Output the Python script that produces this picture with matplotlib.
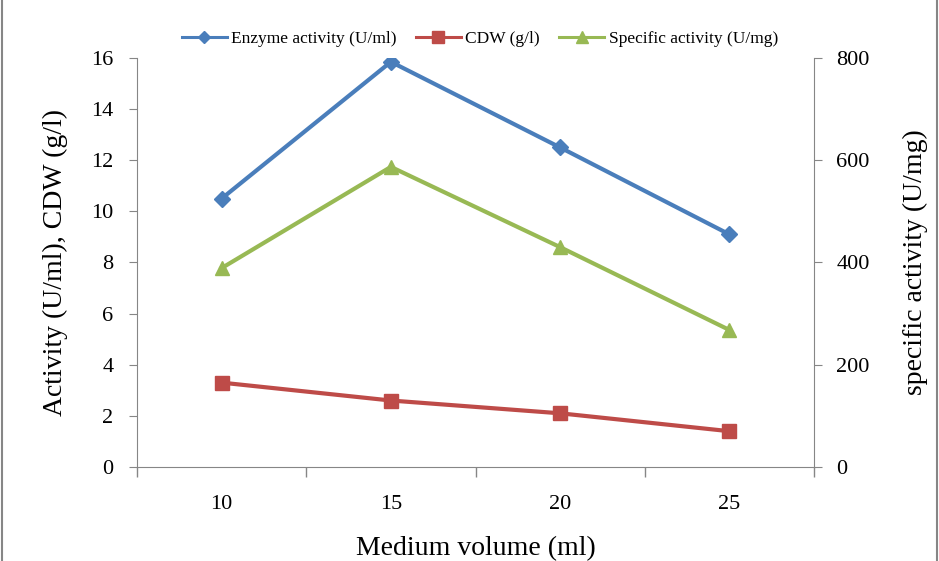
import matplotlib.pyplot as plt
from matplotlib.patches import Rectangle
from matplotlib.lines import Line2D

plt.rcParams['font.family'] = ['Liberation Serif', 'DejaVu Serif']

# data
volumes = ['10', '15', '20', '25']
enzyme_activity = [10.5, 15.85, 12.5, 9.1]      # U/ml
cdw = [3.3, 2.6, 2.1, 1.4]                       # g/l
specific_activity = [389, 587, 430, 268]         # U/mg (right axis)

blue = '#4A7EBB'
red = '#BE4B48'
green = '#98B954'
axis_grey = '#868686'

fig = plt.figure(figsize=(9.39, 5.61), dpi=100)
ax = fig.add_axes([0.1459, 0.1676, 0.721, 0.729])
ax2 = ax.twinx()

x = list(range(1, len(volumes) + 1))

ax.plot(x, enzyme_activity, color=blue, lw=3, marker='D', ms=8.5,
        label='Enzyme activity (U/ml)', zorder=3)
ax.plot(x, cdw, color=red, lw=3, marker='s', ms=10.5,
        label='CDW (g/l)', zorder=3)
ax2.plot(x, specific_activity, color=green, lw=3, marker='^', ms=10.5,
         label='Specific activity (U/mg)', zorder=3)

ax.set_xlim(0.5, 4.5)
ax.set_ylim(0, 16)
ax2.set_ylim(0, 800)
ax.set_yticks(range(0, 17, 2))
ax2.set_yticks(range(0, 801, 200))

# category axis: ticks between categories, labels centred on categories
ax.set_xticks([0.5, 1.5, 2.5, 3.5, 4.5])
ax.set_xticklabels([])
ax.set_xticks(x, minor=True)
ax.set_xticklabels(volumes, minor=True)
ax.tick_params(axis='x', which='minor', length=0, pad=20, labelsize=16)
ax.tick_params(axis='x', which='major', direction='out', length=7,
               color=axis_grey, width=1)

ax.tick_params(axis='y', direction='out', length=6, color=axis_grey,
               labelsize=16, pad=11)
ax2.tick_params(axis='y', direction='out', length=6, color=axis_grey,
                labelsize=16, pad=10)

for a in (ax, ax2):
    a.spines['top'].set_visible(False)
    for s in ('left', 'right', 'bottom'):
        a.spines[s].set_color(axis_grey)
ax.spines['right'].set_visible(False)
ax2.spines['left'].set_visible(False)
ax2.spines['bottom'].set_visible(False)

ax.set_xlabel('Medium volume (ml)', fontsize=20, labelpad=16)
ax.set_ylabel('Activity (U/ml), CDW (g/l)', fontsize=20, labelpad=17)
ax2.set_ylabel('specific activity (U/mg)', fontsize=20, labelpad=24)

handles = [
    Line2D([], [], color=blue, lw=2.2, marker='D', ms=6),
    Line2D([], [], color=red, lw=2.2, marker='s', ms=8),
    Line2D([], [], color=green, lw=2.2, marker='^', ms=8),
]
labels = ['Enzyme activity (U/ml)', 'CDW (g/l)', 'Specific activity (U/mg)']
fig.legend(handles, labels, loc='center', bbox_to_anchor=(0.511, 0.93),
           ncol=3, frameon=False, fontsize=12.5, handlelength=2.6,
           handletextpad=0.25, columnspacing=1.1)

# grey frame around the whole chart
fig.patches.append(Rectangle((0.002, -0.01), 0.996, 1.5, transform=fig.transFigure,
                             fill=False, edgecolor=axis_grey, lw=1.5))

fig.savefig('out.png', dpi=100)
